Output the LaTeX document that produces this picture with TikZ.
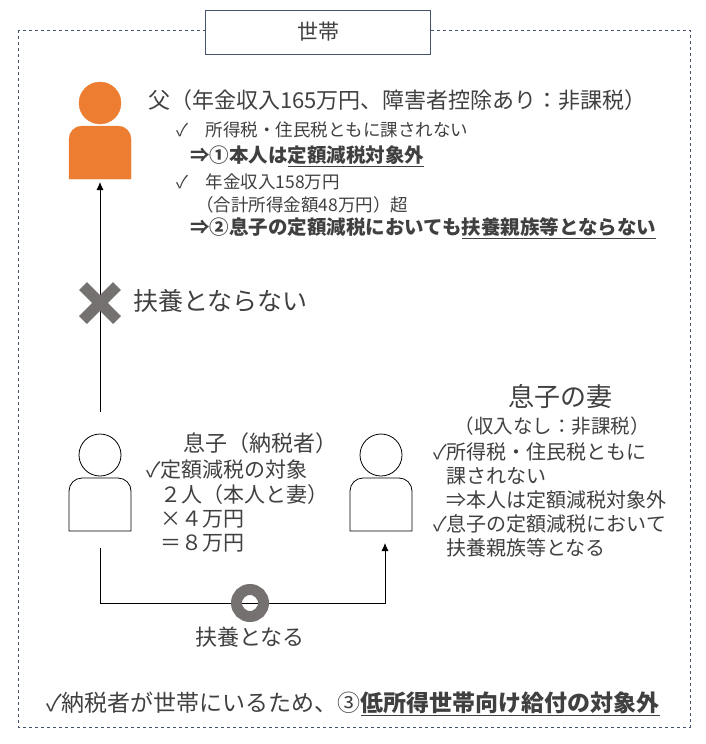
\documentclass[tikz,border=0pt]{standalone}
\usepackage{fontspec}
\setmainfont{Noto Sans CJK JP}
\usetikzlibrary{arrows.meta}
\definecolor{txtgray}{HTML}{404040}
\definecolor{icongray}{HTML}{767171}
\definecolor{dadorange}{HTML}{ED7D31}
\definecolor{framegray}{HTML}{44546A}
\tikzset{
  txt/.style={anchor=west, inner sep=0pt, text=txtgray, font=\fontsize{21}{24}\selectfont},
  wtxt/.style={txt, font=\fontsize{20}{23}\selectfont},
  small/.style={txt, font=\fontsize{17.5}{20}\selectfont},
  big/.style={txt, font=\fontsize{22}{25}\selectfont},
  arrow/.style={thick, -{Latex[length=8pt,width=7pt]}},
  line/.style={thick}
}
\newcommand{\personicon}[3]{%
  \draw[#3] (#1-31,#2+67) [rounded corners=13]-- (#1-31,#2+14) -- (#1+31,#2+14)
    [sharp corners]-- (#1+31,#2+67) -- cycle;
  \draw[#3] (#1,#2-9) circle[radius=21];}
\begin{document}
\begin{tikzpicture}[x=1pt,y=-1pt]
    \useasboundingbox (0,0) rectangle (705,744);

    % household frame
    \draw[framegray, dashed, thick] (18,30) rectangle (690,727);
    \node (title) [draw=framegray, thick, fill=white, minimum width=225pt, minimum height=44pt,
      text=txtgray, font=\fontsize{21}{24}\selectfont] at (318,32) {世帯};

    % icons
    \personicon{100}{112}{fill=dadorange, draw=dadorange}
    \personicon{100}{464}{thick, draw=black, fill=white}
    \personicon{381}{464}{thick, draw=black, fill=white}
    \coordinate (dad) at (100,182);
    \coordinate (sontop) at (100,412);
    \coordinate (sonbot) at (100,548);
    \coordinate (corner) at (100,603);
    \coordinate (wifebot) at (385,543);

    % father text
    \node (dadhead) [big] at (148,100) {父（年金収入165万円、障害者控除あり：非課税）};
    \node (d1) [small] at (176,130) {✓\quad 所得税・住民税ともに課されない};
    \node (d2) [small, font=\fontsize{19.5}{22}\selectfont\bfseries] at (190,156) {⇒①本人は\underline{定額減税対象外}};
    \node (d3) [small] at (176,182) {✓\quad 年金収入158万円};
    \node (d4) [small] at (196,205) {（合計所得金額48万円）超};
    \node (d5) [small, font=\fontsize{19.5}{22}\selectfont\bfseries] at (190,228) {⇒②息子の定額減税においても\underline{扶養親族等とならない}};

    % not dependent
    \draw[arrow] (sontop) -- (dad);
    \draw[icongray, line width=11pt] (83,286) -- (117,320) (83,320) -- (117,286);
    \coordinate (cross) at (100,303);
    \node (nodep) [big, font=\fontsize{25}{28}\selectfont] at (133,301) {扶養とならない};

    % son text
    \node (sonhead) [big] at (183,443) {息子（納税者）};
    \node (s1) [txt] at (146,470) {✓定額減税の対象};
    \node (s2) [txt] at (160,495) {２人（本人と妻）};
    \node (s3) [txt] at (160,519) {×４万円};
    \node (s4) [txt] at (160,543) {＝８万円};

    % wife text
    \node (wifehead) [big, anchor=center, font=\fontsize{26}{28}\selectfont] at (560,397) {息子の妻};
    \node (w0) [txt, anchor=center, font=\fontsize{19.5}{22}\selectfont] at (552,426) {（収入なし：非課税）};
    \node (w1) [wtxt] at (433,452) {✓所得税・住民税ともに};
    \node (w2) [wtxt] at (446,476) {課されない};
    \node (w3) [wtxt] at (446,500) {⇒本人は定額減税対象外};
    \node (w4) [wtxt] at (433,524) {✓息子の定額減税において};
    \node (w5) [wtxt] at (446,548) {扶養親族等となる};

    % dependent
    \draw[line] (sonbot) -- (corner);
    \draw[arrow] (corner) -| (wifebot);
    \draw[icongray, line width=11pt] (250,603) circle[radius=13.5];
    \node (dep) [big, anchor=center] at (250,637) {扶養となる};

    % bottom note
    \node (note) [big, font=\fontsize{23}{26}\selectfont] at (46,704) {✓納税者が世帯にいるため、③\textbf{\underline{低所得世帯向け給付の対象外}}};

\end{tikzpicture}
\end{document}
